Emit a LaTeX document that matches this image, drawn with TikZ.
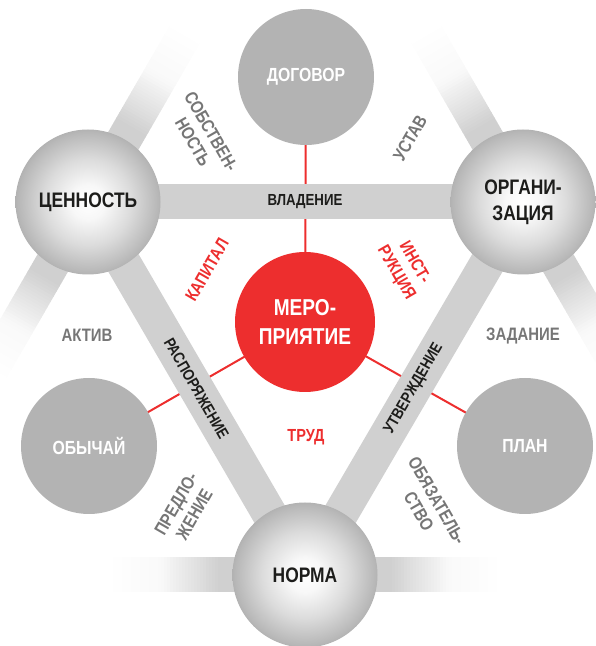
\documentclass[tikz,border=0pt]{standalone}
\usepackage{fontspec}
\setmainfont{Liberation Sans}[FakeStretch=0.83]
\usetikzlibrary{calc}
\definecolor{bandgray}{RGB}{208,208,208}
\definecolor{circgray}{RGB}{179,179,179}
\definecolor{myred}{RGB}{237,46,46}
\definecolor{lblgray}{RGB}{118,118,118}
\definecolor{txtblack}{RGB}{29,29,27}
\pgfdeclareradialshading{sph}{\pgfpoint{0bp}{0bp}}{color(0bp)=(white); color(6bp)=(white!97!black); color(15bp)=(black!14); color(24bp)=(black!28); color(31bp)=(black!42); color(35.4bp)=(black!56); color(50bp)=(black!56)}
\pgfdeclarelayer{lines}
\pgfdeclarelayer{bands}
\pgfsetlayers{lines,bands,main}
\newcommand\myfadeband[2]{%
  \foreach \t in {0,3,...,192}{%
    \pgfmathsetmacro\ff{(\t+1.5)<85 ? 100 : ((\t+1.5)<145 ? 100-88*((\t+1.5)-85)/60 : max(12-12*((\t+1.5)-145)/50,0))}%
    \fill[bandgray!\ff!white] ($(#1)+({#2}:\t)+({#2+90}:17.5)$) -- ($(#1)+({#2}:{\t+3.6})+({#2+90}:17.5)$) -- ($(#1)+({#2}:{\t+3.6})+({#2-90}:17.5)$) -- ($(#1)+({#2}:\t)+({#2-90}:17.5)$) -- cycle;
  }}
\tikzset{
  sphere/.style={circle, minimum size=145pt, inner sep=0pt, shade, shading=sph, text=txtblack, font=\bfseries\fontsize{21}{26}\selectfont, align=center},
  flat/.style={circle, minimum size=136pt, inner sep=0pt, fill=circgray, text=white, font=\bfseries\fontsize{19}{23}\selectfont, align=center},
  core/.style={circle, minimum size=140pt, inner sep=0pt, fill=myred, text=white, font=\bfseries\fontsize{23}{29}\selectfont, align=center},
  bandlbl/.style={text=txtblack, font=\bfseries\fontsize{16}{19}\selectfont, inner sep=0pt},
  glbl/.style={text=lblgray, font=\bfseries\fontsize{18}{21}\selectfont, inner sep=0pt, align=center},
  rlbl/.style={text=myred, font=\bfseries\fontsize{17.5}{21}\selectfont, inner sep=0pt, align=center},
  band/.style={line width=35pt, draw=bandgray},
  redline/.style={line width=2pt, draw=myred}
}
\begin{document}
\begin{tikzpicture}[x=1pt,y=1pt]
\useasboundingbox (0,0) rectangle (596,646);
% nodes
\node[sphere] (A) at (88,444) {ЦЕННОСТЬ};
\node[sphere] (B) at (523,444) {ОРГАНИ-\\ЗАЦИЯ};
\node[sphere] (C) at (305,71) {НОРМА};
\node[flat] (D) at (306,569) {ДОГОВОР};
\node[flat] (E) at (89,200) {ОБЫЧАЙ};
\node[flat] (P) at (525,200) {ПЛАН};
\node[core] (M) at (305,324) {МЕРО-\\ПРИЯТИЕ};
% red connectors
\begin{pgfonlayer}{lines}
\draw[redline] (M.center) -- (D.center);
\draw[redline] (M.center) -- (E.center);
\draw[redline] (M.center) -- (P.center);
\end{pgfonlayer}
% bands
\begin{pgfonlayer}{bands}
\myfadeband{A}{60}
\myfadeband{A}{240}
\myfadeband{B}{120}
\myfadeband{B}{-60}
\myfadeband{C}{0}
\myfadeband{C}{180}
\draw[band] (A.center) -- (B.center);
\draw[band] (A.center) -- (C.center);
\draw[band] (B.center) -- (C.center);
\end{pgfonlayer}
% band labels
\node[bandlbl] (vl) at (305,444) {ВЛАДЕНИЕ};
\node[bandlbl, rotate=-60] (rs) at ($(A.center)!0.5!(C.center)$) {РАСПОРЯЖЕНИЕ};
\node[bandlbl, rotate=60] (ut) at ($(B.center)!0.5!(C.center)$) {УТВЕРЖДЕНИЕ};
% grey labels
\node[glbl, rotate=-60] (sob) at (202,509) {СОБСТВЕН-\\НОСТЬ};
\node[glbl, rotate=60] (ust) at (410,508) {УСТАВ};
\node[glbl] (akt) at (87,311) {АКТИВ};
\node[glbl] (zad) at (523,310) {ЗАДАНИЕ};
\node[glbl, rotate=60] (pred) at (185,137) {ПРЕДЛО-\\ЖЕНИЕ};
\node[glbl, rotate=-60] (obz) at (428,140) {ОБЯЗАТЕЛЬ-\\СТВО};
% red labels
\node[rlbl, rotate=60] (kap) at (207,376) {КАПИТАЛ};
\node[rlbl, rotate=-60] (ins) at (405,378) {ИНСТ-\\РУКЦИЯ};
\node[rlbl] (trd) at (306,209) {ТРУД};
\end{tikzpicture}
\end{document}
